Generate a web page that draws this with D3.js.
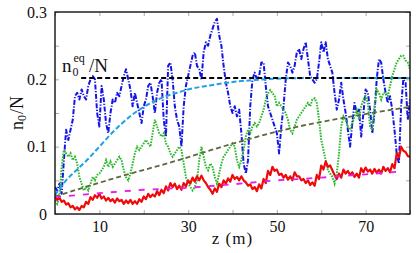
<!DOCTYPE html>
<html><head><meta charset="utf-8">
<script src="https://cdn.jsdelivr.net/npm/d3@7"></script>
<style>body{margin:0;background:#fff}</style>
</head><body>
<svg id="c" width="416" height="253"></svg>
<script>
// ---- data ----
const xTicks = [0,10,20,30,40,50,60,70,80];
const xTickLabels = [10,30,50,70];
const yTicks = [0,0.05,0.1,0.15,0.2,0.25,0.3];
const yTickLabels = [0,0.1,0.2,0.3];
const zStep = 0.5; // sampling step of the noisy series (m)

const blue = [
0.04,0.035,0.045,0.03,0.08,0.125,0.11,0.125,0.14,0.175,
0.18,0.17,0.185,0.175,0.17,0.19,0.2,0.205,0.2,0.15,
0.13,0.19,0.17,0.135,0.12,0.15,0.17,0.165,0.18,0.175,
0.19,0.205,0.215,0.2,0.185,0.16,0.18,0.165,0.15,0.135,
0.16,0.17,0.19,0.195,0.175,0.15,0.18,0.195,0.2,0.14,
0.115,0.22,0.225,0.2,0.16,0.14,0.13,0.1,0.16,0.19,
0.205,0.22,0.235,0.24,0.22,0.215,0.2,0.24,0.255,0.25,
0.265,0.275,0.285,0.29,0.265,0.25,0.22,0.195,0.18,0.16,
0.15,0.16,0.145,0.155,0.12,0.075,0.06,0.08,0.16,0.2,
0.21,0.2,0.205,0.225,0.225,0.19,0.16,0.15,0.14,0.13,
0.12,0.09,0.13,0.16,0.2,0.225,0.22,0.21,0.22,0.24,
0.245,0.23,0.245,0.255,0.23,0.205,0.2,0.195,0.2,0.225,
0.255,0.24,0.255,0.23,0.22,0.21,0.18,0.155,0.17,0.195,
0.17,0.15,0.125,0.1,0.135,0.165,0.15,0.155,0.115,0.15,
0.185,0.18,0.155,0.12,0.15,0.2,0.23,0.225,0.2,0.18,
0.165,0.175,0.155,0.125,0.09,0.075,0.16,0.2,0.195,0.14,
0.17];

const green = [
0.02,0.015,0.025,0.07,0.095,0.09,0.085,0.09,0.08,0.085,
0.075,0.055,0.045,0.035,0.04,0.035,0.045,0.055,0.05,0.058,
0.06,0.065,0.07,0.08,0.07,0.078,0.07,0.075,0.08,0.085,
0.08,0.065,0.055,0.05,0.06,0.075,0.09,0.1,0.095,0.1,
0.105,0.11,0.105,0.1,0.12,0.14,0.13,0.12,0.115,0.12,
0.105,0.1,0.09,0.085,0.09,0.095,0.1,0.095,0.075,0.055,
0.045,0.04,0.035,0.04,0.05,0.08,0.1,0.085,0.07,0.065,
0.075,0.07,0.055,0.045,0.06,0.075,0.085,0.09,0.095,0.1,
0.105,0.1,0.08,0.07,0.08,0.095,0.115,0.125,0.12,0.13,
0.135,0.13,0.135,0.145,0.155,0.17,0.179,0.184,0.18,0.175,
0.16,0.165,0.16,0.155,0.15,0.14,0.125,0.12,0.13,0.14,
0.145,0.15,0.155,0.16,0.165,0.16,0.17,0.172,0.165,0.14,
0.11,0.095,0.08,0.065,0.06,0.055,0.045,0.06,0.09,0.13,
0.145,0.14,0.13,0.125,0.135,0.145,0.154,0.14,0.16,0.17,
0.175,0.165,0.13,0.125,0.16,0.185,0.18,0.17,0.18,0.18,
0.175,0.19,0.205,0.215,0.225,0.23,0.235,0.235,0.228,0.225,
0.215];

const red = [
0.026,0.021,0.024,0.018,0.02,0.014,0.016,0.01,0.012,0.007,
0.01,0.006,0.012,0.01,0.018,0.015,0.025,0.021,0.028,0.024,
0.03,0.023,0.026,0.02,0.024,0.019,0.022,0.017,0.023,0.019,
0.021,0.015,0.02,0.016,0.021,0.015,0.019,0.015,0.022,0.018,
0.026,0.022,0.03,0.025,0.029,0.026,0.034,0.028,0.036,0.031,
0.041,0.035,0.046,0.04,0.045,0.037,0.042,0.036,0.046,0.041,
0.05,0.045,0.054,0.048,0.056,0.05,0.057,0.05,0.046,0.04,
0.036,0.03,0.038,0.033,0.045,0.04,0.05,0.045,0.053,0.048,
0.058,0.052,0.055,0.05,0.056,0.05,0.047,0.042,0.044,0.037,
0.04,0.034,0.044,0.038,0.052,0.046,0.064,0.058,0.07,0.064,
0.066,0.058,0.06,0.054,0.058,0.051,0.056,0.05,0.062,0.056,
0.056,0.05,0.052,0.046,0.05,0.043,0.047,0.042,0.058,0.052,
0.072,0.066,0.078,0.07,0.072,0.065,0.058,0.052,0.06,0.054,
0.066,0.06,0.064,0.058,0.062,0.055,0.06,0.054,0.068,0.062,
0.069,0.063,0.066,0.06,0.067,0.061,0.066,0.06,0.07,0.064,
0.068,0.062,0.074,0.068,0.09,0.084,0.1,0.094,0.092,0.086,
0.085];

const cyanZ = [0,2.5,5,7.5,10,12.5,15,17.5,20,22.5,25,27.5,30,35,40,45,50,60,70,80];
const cyanV = [0.028,0.05,0.066,0.082,0.1,0.118,0.134,0.148,0.159,0.168,0.175,0.18,0.185,0.191,0.196,0.199,0.201,0.202,0.202,0.202];

const oliveZ = [0,13.3,26.8,40.3,53.6,66.9,80];
const oliveV = [0.026,0.053,0.078,0.105,0.128,0.145,0.159];

const magentaZ = [0,10,20,30,40,50,60,70,78];
const magentaV = [0.025,0.031,0.036,0.039,0.044,0.05,0.054,0.059,0.063];

const eqZ = [5.9,80];
const eqV = [0.202,0.202];

// ---- chart ----
const L=55, R=410, T=12, B=214;
const FONT = '"Liberation Serif"';
const svg = d3.select("#c").style("font-family",FONT);
const x = d3.scaleLinear().domain([0,80]).range([L,R]);
const y = d3.scaleLinear().domain([0,0.3]).range([B,T]);

svg.append("defs").append("clipPath").attr("id","clip")
  .append("rect").attr("x",L).attr("y",T).attr("width",R-L).attr("height",B-T);

const fmtY = d => yTickLabels.some(v=>Math.abs(v-d)<1e-9) ? (d===0?"0":d3.format(".1f")(d)) : "";
const fmtX = d => xTickLabels.includes(d) ? String(d) : "";

function styleAxis(g){
  g.attr("font-family",null).attr("font-size",null);
  g.select(".domain").remove();
  g.selectAll(".tick line").attr("stroke","#a0a0a0").attr("stroke-width",0.9);
  g.selectAll(".tick text").style("font-family",FONT).style("font-size","16px").attr("fill","#111");
}
svg.append("g").attr("transform",`translate(0,${B})`)
  .call(d3.axisBottom(x).tickValues(xTicks).tickFormat(fmtX).tickSize(-4).tickPadding(7)).call(styleAxis);
svg.append("g").attr("transform",`translate(0,${T})`)
  .call(d3.axisTop(x).tickValues(xTicks).tickFormat("").tickSize(-4)).call(styleAxis);
svg.append("g").attr("transform",`translate(${L},0)`)
  .call(d3.axisLeft(y).tickValues(yTicks).tickFormat(fmtY).tickSize(-4).tickPadding(8)).call(styleAxis);
svg.append("g").attr("transform",`translate(${R},0)`)
  .call(d3.axisRight(y).tickValues(yTicks).tickFormat("").tickSize(-4)).call(styleAxis);

const plot = svg.append("g").attr("clip-path","url(#clip)");
const lineIdx = d3.line().x((d,i)=>x(i*zStep)).y(d=>y(d));
const linePair = (zs,vs) => d3.line().x((d,i)=>x(zs[i])).y(d=>y(d))(vs);
const lineSmooth = (zs,vs) => d3.line().curve(d3.curveMonotoneX).x((d,i)=>x(zs[i])).y(d=>y(d))(vs);

// noisy series
plot.append("path").attr("d",lineIdx(blue)).attr("fill","none")
  .attr("stroke","#1414e6").attr("stroke-width",2).attr("stroke-dasharray","5,1.6,1.2,1.6").attr("stroke-linejoin","round");
plot.append("path").attr("d",lineIdx(green)).attr("fill","none")
  .attr("stroke","#2db82d").attr("stroke-width",2).attr("stroke-dasharray","1.6,1.2");
plot.append("path").attr("d",lineIdx(red)).attr("fill","none")
  .attr("stroke","#ee0a0a").attr("stroke-width",2.2).attr("stroke-linejoin","round");

// smooth references
plot.append("path").attr("d",lineSmooth(oliveZ,oliveV)).attr("fill","none")
  .attr("stroke","#5b6a3c").attr("stroke-width",1.8).attr("stroke-dasharray","5,3");
plot.append("path").attr("d",linePair(magentaZ,magentaV)).attr("fill","none")
  .attr("stroke","#e61ee6").attr("stroke-width",1.8).attr("stroke-dasharray","6,8");
plot.append("path").attr("d",lineSmooth(cyanZ,cyanV)).attr("fill","none")
  .attr("stroke","#1ea0e6").attr("stroke-width",2).attr("stroke-dasharray","5,2.5");
plot.append("path").attr("d",linePair(eqZ,eqV)).attr("fill","none")
  .attr("stroke","#000").attr("stroke-width",2).attr("stroke-dasharray","5,3");

// frame
svg.append("rect").attr("x",L).attr("y",T).attr("width",R-L).attr("height",B-T)
  .attr("fill","none").attr("stroke","#111").attr("stroke-width",1.4);

// annotation n0^eq/N
const ann = svg.append("g").attr("fill","#111");
ann.append("text").attr("x",62).attr("y",72).style("font-family",FONT).style("font-size","19px").text("n");
ann.append("text").attr("x",72.5).attr("y",76).style("font-family",FONT).style("font-size","12px").text("0");
ann.append("text").attr("x",73.5).attr("y",62).style("font-family",FONT).style("font-size","12px").text("eq");
ann.append("text").attr("x",89).attr("y",72).style("font-family",FONT).style("font-size","19px").text("/N");

// axis titles
const yl = svg.append("text").attr("transform","translate(23,113) rotate(-90)")
  .attr("text-anchor","middle").style("font-family",FONT).style("font-size","18px").attr("fill","#111");
yl.append("tspan").text("n");
yl.append("tspan").style("font-size","12px").attr("dy",3).text("0");
yl.append("tspan").attr("dy",-3).attr("dx",1).text("/N");

svg.append("text").attr("x",(L+R)/2).attr("y",244).attr("text-anchor","middle")
  .style("font-family",FONT).style("font-size","17px").style("letter-spacing","1px").attr("fill","#111").text("z (m)");
</script>
</body></html>
